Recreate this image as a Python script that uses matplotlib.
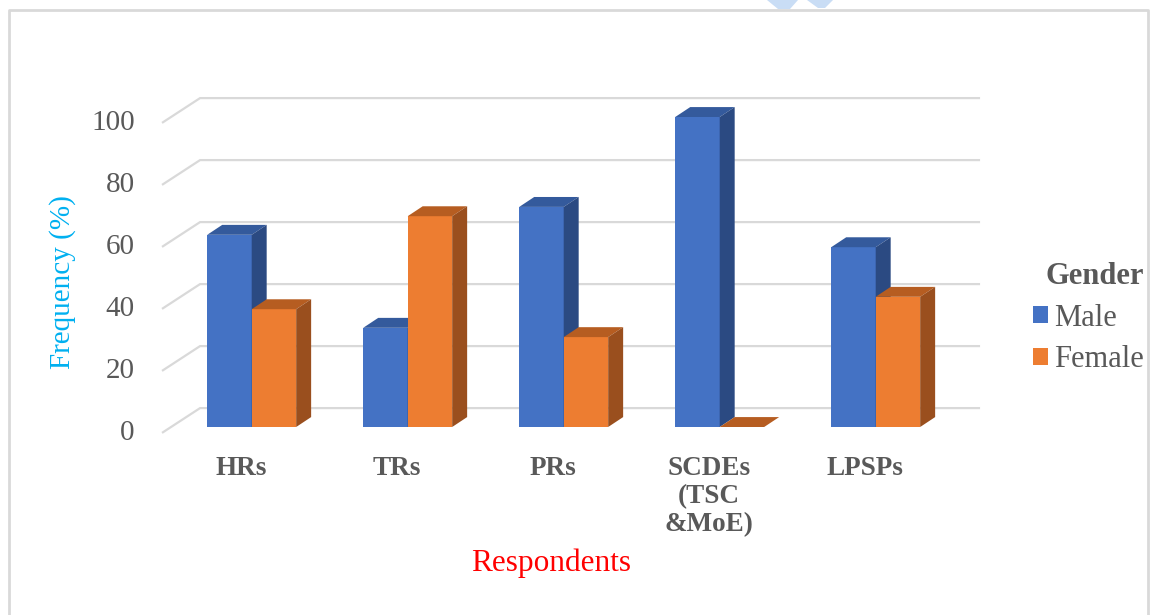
import numpy as np
import matplotlib.pyplot as plt
from matplotlib.patches import Polygon, Patch
from matplotlib.lines import Line2D

plt.rcParams['font.family'] = ['Liberation Serif', 'DejaVu Serif']

categories = ['HRs', 'TRs', 'PRs', 'SCDEs\n(TSC\n&MoE)', 'LPSPs']
male = [62, 32, 71, 100, 58]
female = [38, 68, 29, 0, 42]
yticks = [0, 20, 40, 60, 80, 100]

# colours: front / top / side
male_c = ['#4472C4', '#345A9C', '#2B4A82']
female_c = ['#ED7D31', '#B65D21', '#9A4F1E']
grid_c = '#D9D9D9'
text_c = '#595959'

W, H = 1152, 615
fig = plt.figure(figsize=(W / 100, H / 100), dpi=100)
fig.patch.set_facecolor('white')

# one axes over the whole figure: x in categories, y in percent
PX_X = 156.0
PX_Y = 3.1
X0, Y0 = 251.7, 427.0
ax = fig.add_axes([0, 0, 1, 1])
ax.set_xlim(-X0 / PX_X, (W - X0) / PX_X)
ax.set_ylim(-(H - Y0) / PX_Y, Y0 / PX_Y)
ax.axis('off')

# fake 3d wall: back gridlines plus the slanted part on the left
back_lo, back_hi, front_x = -0.331, 4.669, -0.575
floor_front, wall_back = -1.9, 6.1
for v in yticks:
    ax.plot([front_x, back_lo, back_hi],
            [v + floor_front, v + wall_back, v + wall_back],
            color=grid_c, lw=1.6, zorder=1, solid_capstyle='butt')
    ax.text(-0.75, v + floor_front, str(v), ha='right', va='center',
            fontsize=21, color=text_c)

# bars with top and side faces
w = 0.285
dx, dy = 0.096, 3.2
x = np.arange(len(categories))
ax.bar(x - w, male, w, align='edge', color=male_c[0], zorder=2)
ax.bar(x, female, w, align='edge', color=female_c[0], zorder=3)
for i in range(len(categories)):
    for x0, h, cols, z in [(i - w, male[i], male_c, 2), (i, female[i], female_c, 3)]:
        x1 = x0 + w
        ax.add_patch(Polygon([(x0, h), (x0 + dx, h + dy), (x1 + dx, h + dy), (x1, h)],
                             closed=True, fc=cols[1], ec='none', zorder=z))
        ax.add_patch(Polygon([(x1, 0), (x1 + dx, dy), (x1 + dx, h + dy), (x1, h)],
                             closed=True, fc=cols[2], ec='none', zorder=z))

for i, cat in enumerate(categories):
    ax.text(i - 0.07, -9.3, cat, ha='center', va='top', fontsize=19.5,
            fontweight='bold', color=text_c, linespacing=1.17)

ax.text(1.919, -43.9, 'Respondents', ha='center', va='center',
        fontsize=22.5, color='red')
ax.text(-1.21, 46.8, 'Frequency (%)', rotation=90, ha='center', va='center',
        fontsize=21, color='#00B0F0')

handles = [Patch(facecolor=male_c[0]), Patch(facecolor=female_c[0])]
leg = ax.legend(handles, ['Male', 'Female'], title='Gender', loc='center right',
                bbox_to_anchor=(1144 / W, 1 - 318 / H), bbox_transform=fig.transFigure,
                frameon=False, fontsize=22, title_fontproperties={'weight': 'bold', 'size': 22},
                handlelength=0.5, handleheight=0.5, handletextpad=0.2,
                labelspacing=0.42, borderpad=0, borderaxespad=0,
                labelcolor=text_c, alignment='right')
leg.get_title().set_color(text_c)

# chart border (open at the bottom)
fx = lambda px: px / W
fy = lambda py: 1 - py / H
fig.add_artist(Line2D([fx(9), fx(9), fx(1148), fx(1148)], [0, fy(10), fy(10), 0],
                      transform=fig.transFigure, color=grid_c, lw=2))

# faint logo fragment above the border
for pts in ([(767, 0), (798, 0), (790, 9), (778, 9)],
            [(807, 0), (833, 0), (825, 8), (818, 8)]):
    fig.add_artist(Polygon([(fx(a), fy(b)) for a, b in pts], closed=True,
                           transform=fig.transFigure, fc='#C9DDF5', ec='none'))

fig.savefig('out.png', dpi=100)
